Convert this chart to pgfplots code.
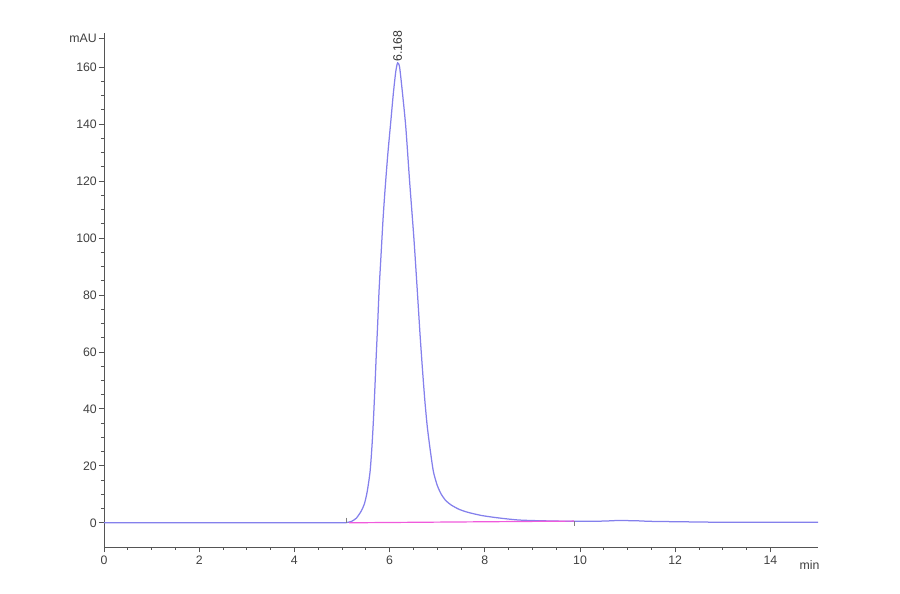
\documentclass[border=0pt]{standalone}
\usepackage{fontspec}
\setmainfont{Liberation Sans}
\usepackage{pgfplots}
\pgfplotsset{compat=1.18}
\definecolor{trace}{RGB}{132,128,236}
\definecolor{basecol}{RGB}{240,90,220}
\definecolor{axgray}{RGB}{85,85,85}
\begin{document}
\begin{tikzpicture}
\path[use as bounding box] (-104pt,-47pt) rectangle (796pt,547pt);
\begin{axis}[
    at={(0pt,0pt)}, anchor=south west,
    scale only axis, width=714pt, height=514pt,
    xmin=0, xmax=15, ymin=-8.5, ymax=172,
    axis x line*=bottom, axis y line*=left,
    axis line style={axgray, line width=0.9pt},
    xtick={0,2,...,14}, ytick={0,20,...,160},
    minor x tick num=3, minor y tick num=3,
    tick align=outside,
    major tick length=5.5pt, minor tick length=3pt,
    tick style={axgray, line width=0.8pt},
    every tick label/.append style={font=\fontsize{12.3}{14}\selectfont, text=black!75},
    yticklabel style={inner xsep=1.5pt},
    /pgf/number format/assume math mode=true,
    extra y ticks={170}, extra y tick labels={mAU},
    clip=false,
]
% chromatogram trace
\addplot[trace, line width=1.25pt, smooth, tension=0.4] coordinates {
    (0,0) (2,0) (4,0) (5.0,0) (5.1,0.1) (5.2,0.5) (5.3,1.6) (5.4,4.0)
    (5.47,6.6) (5.53,11) (5.59,18) (5.63,27) (5.66,36) (5.69,47)
    (5.72,59) (5.75,70) (5.78,82) (5.82,94) (5.86,106) (5.90,116)
    (5.96,129) (6.02,140) (6.08,151) (6.13,158.5) (6.168,161.5)
    (6.21,160) (6.27,151) (6.34,139) (6.42,120) (6.51,100) (6.58,82)
    (6.64,66) (6.69,54) (6.74,43) (6.79,34) (6.85,26) (6.92,18)
    (7.0,13.2) (7.08,10.2) (7.17,8.0) (7.28,6.4) (7.45,4.8) (7.64,3.7)
    (7.92,2.6) (8.2,1.9) (8.45,1.4) (8.69,1.0) (8.97,0.8) (9.5,0.6)
    (10.0,0.5) (10.5,0.6) (10.8,0.8) (11.2,0.7) (11.5,0.5) (12.4,0.3)
    (13,0.2) (15,0.2)
};
% integration baseline
\addplot[basecol, line width=1.2pt] coordinates {(5.15,0.0) (9.87,0.6)};
% integration markers
\addplot[only marks, mark=|, mark size=2.5pt, mark options={gray, line width=0.6pt}]
    coordinates {(5.1,0.9) (9.87,-0.4)};
\node[rotate=90, anchor=west, inner sep=1pt, text=black!80,
      font=\fontsize{12.3}{14}\selectfont] at (axis cs:6.168,161.5) {6.168};
\node[anchor=base, text=black!75, font=\fontsize{12.3}{14}\selectfont,
      yshift=-23pt] at (axis cs:14.82,-8.5) {min};
\end{axis}
\end{tikzpicture}
\end{document}
